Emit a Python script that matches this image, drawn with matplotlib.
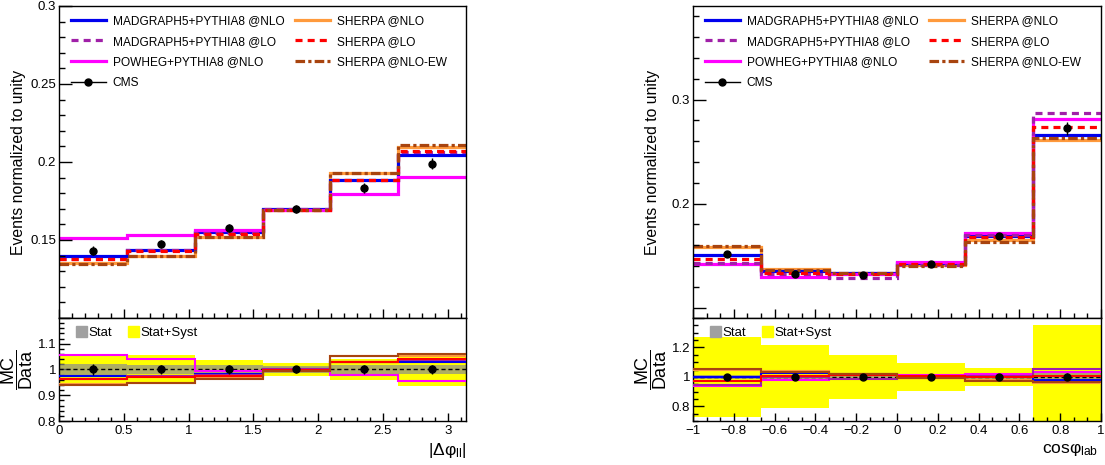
import numpy as np
import matplotlib
matplotlib.use("Agg")
import matplotlib.pyplot as plt
from matplotlib.lines import Line2D
from matplotlib.patches import Patch
from matplotlib.ticker import MultipleLocator, AutoMinorLocator, FuncFormatter

plt.rcParams['font.family'] = ['Liberation Sans', 'DejaVu Sans']
plt.rcParams['mathtext.fontset'] = 'custom'
plt.rcParams['mathtext.rm'] = 'Liberation Sans'
plt.rcParams['mathtext.it'] = 'Liberation Sans:italic'
plt.rcParams['mathtext.sf'] = 'Liberation Sans'

# ---------------- data: |Delta phi_ll| ----------------
dphi_edges = np.linspace(0, np.pi, 7)
dphi_cms = [0.1432, 0.1475, 0.1576, 0.1698, 0.1833, 0.1989]
dphi_stat = [0.020, 0.019, 0.016, 0.014, 0.016, 0.018]      # relative
dphi_total = [0.062, 0.058, 0.037, 0.027, 0.042, 0.065]     # relative
dphi_mg_nlo = [0.1396, 0.1435, 0.1550, 0.1700, 0.1886, 0.2047]
dphi_mg_lo = [0.1378, 0.1436, 0.1543, 0.1698, 0.1886, 0.2062]
dphi_powheg = [0.1513, 0.1534, 0.1565, 0.1693, 0.1796, 0.1901]
dphi_sh_nlo = [0.1351, 0.1397, 0.1522, 0.1690, 0.1929, 0.2096]
dphi_sh_lo = [0.1377, 0.1432, 0.1539, 0.1693, 0.1886, 0.2073]
dphi_sh_ew = [0.1346, 0.1397, 0.1520, 0.1690, 0.1929, 0.2111]

# ---------------- data: cos phi_lab ----------------
cos_edges = np.linspace(-1, 1, 7)
cos_cms = [0.1512, 0.1322, 0.1309, 0.1416, 0.1686, 0.2723]
cos_stat = [0.016, 0.016, 0.015, 0.014, 0.014, 0.024]
cos_total = [0.27, 0.215, 0.15, 0.095, 0.06, 0.35]
cos_mg_nlo = [0.1510, 0.1353, 0.1335, 0.1429, 0.1693, 0.2662]
cos_mg_lo = [0.1430, 0.1320, 0.1288, 0.1406, 0.1700, 0.2867]
cos_powheg = [0.1422, 0.1292, 0.1325, 0.1438, 0.1715, 0.2815]
cos_sh_nlo = [0.1583, 0.1374, 0.1330, 0.1406, 0.1647, 0.2613]
cos_sh_lo = [0.1470, 0.1332, 0.1326, 0.1422, 0.1680, 0.2736]
cos_sh_ew = [0.1596, 0.1364, 0.1335, 0.1403, 0.1635, 0.2626]

labels = ['MADGRAPH5+PYTHIA8 @NLO', 'MADGRAPH5+PYTHIA8 @LO', 'POWHEG+PYTHIA8 @NLO',
          'SHERPA @NLO', 'SHERPA @LO', 'SHERPA @NLO-EW']
colors = ['#0000ee', '#a020a8', '#ff00ff', '#ff9a3c', '#ff0000', '#a8440f']
styles = ['-', (0, (2.2, 1.6)), '-', '-', (0, (2.2, 1.6)), (0, (3, 1.0, 1.0, 1.0))]
order = [3, 0, 2, 1, 4, 5]  # drawing order (last on top)

W, H = 1105, 465
fig = plt.figure(figsize=(W / 100, H / 100), dpi=100)


def fx(px):
    return px / W


def fy(py):
    return 1 - py / H


def make_fmt(lo, hi, hide_lo=False, hide_hi=False):
    def f(v, pos):
        span = hi - lo
        if hide_lo and v < lo + 0.05 * span:
            return ''
        if hide_hi and v > hi - 0.05 * span:
            return ''
        s = '%g' % round(v, 6)
        if s == '-0':
            s = '0'
        return s.replace('-', '\u2212')
    return FuncFormatter(f)


def style_axis(ax, xmaj, xmin_div, ymaj, ymin_div, ylen, xlen):
    ax.xaxis.set_major_locator(MultipleLocator(xmaj))
    ax.xaxis.set_minor_locator(AutoMinorLocator(xmin_div))
    ax.yaxis.set_major_locator(MultipleLocator(ymaj))
    ax.yaxis.set_minor_locator(AutoMinorLocator(ymin_div))
    ax.tick_params(axis='y', which='major', direction='in', length=ylen, width=1, labelsize=9.5, pad=2)
    ax.tick_params(axis='y', which='minor', direction='in', length=ylen * 0.45, width=1)
    ax.tick_params(axis='x', which='major', direction='in', length=xlen, width=1, labelsize=9.5, pad=3)
    ax.tick_params(axis='x', which='minor', direction='in', length=xlen * 0.55, width=1)
    for s in ax.spines.values():
        s.set_linewidth(1.0)


def panel(x0, x1, edges, cms, stat, total, mcs, ylim_top, ylim_rat, xmaj, xmin_div,
          ymaj_top, ymaj_rat, ymin_rat_div, xlabel, xlab_x):
    top = fig.add_axes([fx(x0), fy(318), fx(x1 - x0), (318 - 6) / H])
    rat = fig.add_axes([fx(x0), fy(421), fx(x1 - x0), (421 - 318) / H], sharex=top)
    cms = np.asarray(cms)
    stat = np.asarray(stat)
    total = np.asarray(total)
    centers = 0.5 * (edges[:-1] + edges[1:])

    # top
    for i in order:
        top.stairs(mcs[i], edges, baseline=None, color=colors[i], lw=2.3, linestyle=styles[i])
    top.errorbar(centers, cms, yerr=cms * stat, fmt='o', color='k', ms=5, lw=1, capsize=0, zorder=10)
    top.set_xlim(edges[0], edges[-1])
    top.set_ylim(*ylim_top)
    top.set_ylabel('Events normalized to unity', fontsize=11.3)
    top.yaxis.set_label_coords(-0.081, 0.5)
    style_axis(top, xmaj, xmin_div, ymaj_top, 5, 9.5, 6.5)
    top.yaxis.set_major_formatter(make_fmt(*ylim_top, hide_lo=True))
    top.tick_params(axis='x', labelbottom=False)

    handles = [Line2D([], [], color=colors[0], lw=2.3, ls=styles[0]),
               Line2D([], [], color=colors[1], lw=2.3, ls=styles[1]),
               Line2D([], [], color=colors[2], lw=2.3, ls=styles[2]),
               Line2D([], [], color='k', lw=1, marker='o', ms=5),
               Line2D([], [], color=colors[3], lw=2.3, ls=styles[3]),
               Line2D([], [], color=colors[4], lw=2.3, ls=styles[4]),
               Line2D([], [], color=colors[5], lw=2.3, ls=styles[5])]
    labs = [labels[0], labels[1], labels[2], 'CMS', labels[3], labels[4], labels[5]]
    top.legend(handles, labs, ncol=2, loc='upper left', bbox_to_anchor=(12 / (x1 - x0), 1 - 9 / 312),
               frameon=False, fontsize=8.6, handlelength=2.9, handletextpad=0.6,
               columnspacing=0.9, labelspacing=0.72, borderpad=0, borderaxespad=0)

    # ratio
    rat.stairs(1 + total, edges, baseline=1 - total, fill=True, color='#ffff00', lw=0, zorder=1)
    rat.stairs(1 + stat, edges, baseline=1 - stat, fill=True, color='#8c8c8c', alpha=0.7, lw=0, zorder=2)
    rat.axhline(1, color='k', ls=(0, (3, 2)), lw=1, zorder=3)
    for i in order:
        rat.stairs(np.asarray(mcs[i]) / cms, edges, baseline=None, color=colors[i], lw=1.5, zorder=4)
    rat.errorbar(centers, np.ones_like(cms), yerr=stat, fmt='o', color='k', ms=5, lw=1, capsize=0, zorder=10)
    rat.set_ylim(*ylim_rat)
    style_axis(rat, xmaj, xmin_div, ymaj_rat, ymin_rat_div, 7.7, 5.8)
    rat.yaxis.set_major_formatter(make_fmt(*ylim_rat, hide_hi=True))
    rat.xaxis.set_major_formatter(make_fmt(edges[0], edges[-1]))
    rat.set_ylabel(r'$\dfrac{\mathrm{MC}}{\mathrm{Data}}$', fontsize=13)
    rat.yaxis.set_label_coords(-0.058, 0.5)
    rat.set_xlabel(xlabel, fontsize=12.5, loc='right')
    rat.xaxis.set_label_coords(xlab_x, -0.19)
    rat.legend([Patch(facecolor='#a0a0a0', edgecolor='#a0a0a0'), Patch(facecolor='#ffff00', edgecolor='#ffff00')],
               ['Stat', 'Stat+Syst'], ncol=2, loc='upper left', bbox_to_anchor=(17 / (x1 - x0), 0.92),
               frameon=False, fontsize=9.5, handlelength=0.8, handleheight=0.9, handletextpad=0.15,
               columnspacing=1.2, borderpad=0, borderaxespad=0)
    return top, rat


panel(59, 466, dphi_edges, dphi_cms, dphi_stat, dphi_total,
      [dphi_mg_nlo, dphi_mg_lo, dphi_powheg, dphi_sh_nlo, dphi_sh_lo, dphi_sh_ew],
      (0.1, 0.3), (0.8, 1.2), 0.5, 5, 0.05, 0.1, 5,
      r'$|\Delta\mathrm{φ}_{\mathrm{ll}}|$', 1.0)

panel(693, 1101, cos_edges, cos_cms, cos_stat, cos_total,
      [cos_mg_nlo, cos_mg_lo, cos_powheg, cos_sh_nlo, cos_sh_lo, cos_sh_ew],
      (0.09, 0.39), (0.7, 1.4), 0.2, 3, 0.1, 0.2, 4,
      r'$\mathrm{cosφ}_{\mathrm{lab}}$', 0.993)

fig.savefig('out.png', dpi=100)
